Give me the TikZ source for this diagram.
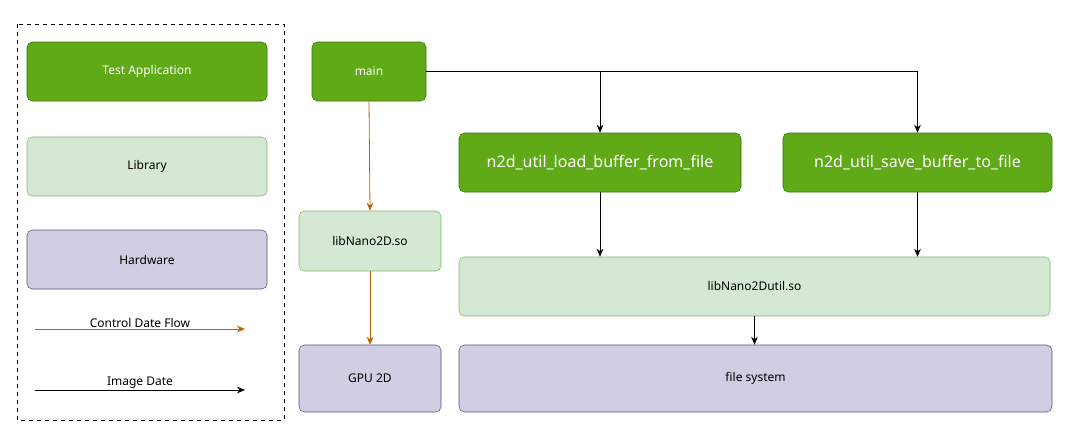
\documentclass[tikz,border=0pt]{standalone}
\usepackage{fontspec}
\setmainfont{Noto Sans}
\usetikzlibrary{arrows.meta}
\definecolor{appfill}{HTML}{60A917}
\definecolor{appline}{HTML}{2D7600}
\definecolor{libfill}{HTML}{D5E8D4}
\definecolor{libline}{HTML}{82B366}
\definecolor{hwfill}{HTML}{D0CEE2}
\definecolor{hwline}{HTML}{56517E}
\definecolor{ctrl}{HTML}{B46504}
\tikzset{
  box/.style={draw, rounded corners=4pt, inner sep=0pt, font=\fontsize{9}{11}\selectfont},
  app/.style={box, fill=appfill, draw=appline, text=white},
  lib/.style={box, fill=libfill, draw=libline},
  hw/.style={box, fill=hwfill, draw=hwline},
  flow/.style={-{Stealth[length=6pt,width=5pt]}, line width=0.6pt},
  ctrlflow/.style={flow, draw=ctrl},
}
\begin{document}
\begin{tikzpicture}[x=0.75pt, y=-0.75pt]
    \useasboundingbox (0, 0) rectangle (1068, 429);
    % legend
    \draw [dashed] (17, 24) rectangle (284, 420);
    \node [app, minimum width=240*0.75pt, minimum height=59*0.75pt] (legapp) at (147, 71.5) {Test Application};
    \node [lib, minimum width=240*0.75pt, minimum height=59*0.75pt] (leglib) at (147, 166.5) {Library};
    \node [hw, minimum width=240*0.75pt, minimum height=59*0.75pt] (leghw) at (147, 259.5) {Hardware};
    \coordinate (c0) at (35, 329);
    \coordinate (c1) at (245, 329);
    \coordinate (i0) at (35, 390);
    \coordinate (i1) at (245, 390);
    \draw [ctrlflow] (c0) to (c1);
    \draw [flow] (i0) to (i1);
    \node [font=\fontsize{9}{11}\selectfont] (ctrltext) at (140, 323) {Control Date Flow};
    \node [font=\fontsize{9}{11}\selectfont] (imgtext) at (140, 383) {Image Date};
    % diagram
    \node [app, minimum width=114*0.75pt, minimum height=59*0.75pt] (main) at (369, 71.5) {main};
    \node [lib, minimum width=142*0.75pt, minimum height=60*0.75pt] (nano) at (370, 241) {libNano2D.so};
    \node [hw, minimum width=142*0.75pt, minimum height=67*0.75pt] (gpu) at (370, 378.5) {GPU 2D};
    \node [app, font=\fontsize{12}{14}\selectfont, minimum width=282*0.75pt, minimum height=59*0.75pt] (load) at (600, 162.5) {n2d\_util\_load\_buffer\_from\_file};
    \node [app, font=\fontsize{12}{14}\selectfont, minimum width=269*0.75pt, minimum height=59*0.75pt] (save) at (917.5, 162.5) {n2d\_util\_save\_buffer\_to\_file};
    \node [lib, minimum width=591*0.75pt, minimum height=59*0.75pt] (util) at (754.5, 286.5) {libNano2Dutil.so};
    \node [hw, minimum width=593*0.75pt, minimum height=67*0.75pt] (fs) at (755.5, 378.5) {file system};
    \draw [flow] (main.east) -| (load.north);
    \draw [flow] (main.east) -| (save.north);
    \draw [ctrlflow] (main.south) to (nano.north);
    \draw [ctrlflow] (nano.south) to (gpu.south |- gpu.north);
    \draw [flow] (load.south) to (load.south |- util.north);
    \draw [flow] (save.south) to (save.south |- util.north);
    \draw [flow] (util.south) to (util.south |- fs.north);
\end{tikzpicture}
\end{document}
